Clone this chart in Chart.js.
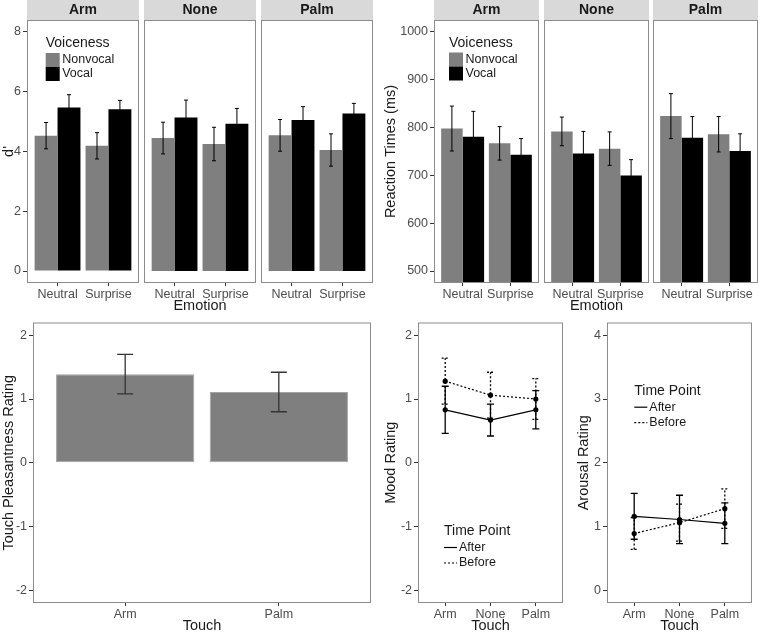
<!DOCTYPE html>
<html>
<head>
<meta charset="utf-8">
<script src="https://cdn.jsdelivr.net/npm/chart.js@4.4.1/dist/chart.umd.min.js"></script>
<style>
  html, body { margin: 0; padding: 0; background: #fff; overflow: hidden; }
  #page { position: relative; width: 761px; height: 633px; }
  canvas { position: absolute; }
</style>
</head>
<body>
<div id="page"></div>
<script>
// ---- data ----
const touchFacets = ['Arm', 'None', 'Palm'];
const emotions = ['Neutral', 'Surprise'];
const voiceness = ['Nonvocal', 'Vocal'];

// d' by facet (Arm, None, Palm), each [Neutral, Surprise]
const dprimeNonvocal = [[4.53, 4.19], [4.45, 4.25], [4.54, 4.05]];
const dprimeNonvocalErr = [[0.44, 0.44], [0.53, 0.56], [0.53, 0.54]];
const dprimeVocal = [[5.47, 5.41], [5.14, 4.93], [5.05, 5.27]];
const dprimeVocalErr = [[0.43, 0.30], [0.58, 0.51], [0.45, 0.34]];
const dprimeTicks = [0, 2, 4, 6, 8];

// reaction times (ms) by facet, each [Neutral, Surprise]
const rtNonvocal = [[798, 767], [792, 756], [824, 786]];
const rtNonvocalErr = [[47, 35], [30, 35], [47, 37]];
const rtVocal = [[781, 743], [746, 700], [779, 751]];
const rtVocalErr = [[53, 34], [46, 33], [44, 36]];
const rtTicks = [500, 600, 700, 800, 900, 1000];

// touch pleasantness
const pleasantTouch = ['Arm', 'Palm'];
const pleasantness = [1.39, 1.11];
const pleasantnessErr = [0.31, 0.31];
const ratingTicks = [-2, -1, 0, 1, 2];

// mood and arousal, Touch = Arm, None, Palm
const timePoints = ['After', 'Before'];
const moodAfter = [0.83, 0.67, 0.83];
const moodAfterErr = [0.37, 0.25, 0.30];
const moodBefore = [1.28, 1.06, 1.00];
const moodBeforeErr = [0.36, 0.36, 0.32];
const arousalAfter = [1.16, 1.11, 1.05];
const arousalAfterErr = [0.36, 0.38, 0.32];
const arousalBefore = [0.89, 1.06, 1.28];
const arousalBeforeErr = [0.25, 0.29, 0.31];
const arousalTicks = [0, 1, 2, 3, 4];

Chart.defaults.font.family = '"Liberation Sans", Arial, Helvetica, sans-serif';
Chart.defaults.color = '#4d4d4d';

const FONT = '"Liberation Sans", Arial, Helvetica, sans-serif';

// strip, panel border, error bars and in-panel legend
const panelPlugin = {
  id: 'panel',
  beforeDraw(chart, args, opts) {
    if (!opts.strip) return;
    const a = chart.chartArea, ctx = chart.ctx;
    ctx.save();
    ctx.fillStyle = '#d9d9d9';
    ctx.fillRect(a.left, a.top - 20, a.right - a.left, 20);
    ctx.fillStyle = '#1a1a1a';
    ctx.font = 'bold 14px ' + FONT;
    ctx.textAlign = 'center';
    ctx.textBaseline = 'middle';
    ctx.fillText(opts.strip, (a.left + a.right) / 2, a.top - 9.5);
    ctx.restore();
  },
  afterDatasetsDraw(chart) {
    const ctx = chart.ctx, ys = chart.scales.y;
    chart.data.datasets.forEach((ds, i) => {
      if (!ds.errors) return;
      const meta = chart.getDatasetMeta(i);
      ctx.save();
      ctx.strokeStyle = ds.errColor || '#000';
      ctx.lineWidth = ds.errWidth || 1;
      ctx.setLineDash(ds.errDash || []);
      meta.data.forEach((el, j) => {
        const v = ds.data[j].y, e = ds.errors[j];
        const x = el.x, y1 = ys.getPixelForValue(v - e), y2 = ys.getPixelForValue(v + e);
        const cw = ds.capHalf || 2;
        ctx.beginPath();
        ctx.moveTo(x, y1); ctx.lineTo(x, y2);
        ctx.moveTo(x - cw, y1); ctx.lineTo(x + cw, y1);
        ctx.moveTo(x - cw, y2); ctx.lineTo(x + cw, y2);
        ctx.stroke();
      });
      ctx.restore();
    });
  },
  afterDraw(chart, args, opts) {
    const a = chart.chartArea, ctx = chart.ctx;
    ctx.save();
    ctx.strokeStyle = '#8c8c8c';
    ctx.lineWidth = 1;
    ctx.strokeRect(a.left + 0.5, a.top + 0.5, a.right - a.left - 1, a.bottom - a.top - 1);
    const lg = opts.legend;
    if (lg) {
      const x = a.left + lg.x;
      ctx.textBaseline = 'middle';
      ctx.textAlign = 'left';
      ctx.fillStyle = '#1a1a1a';
      ctx.font = '14px ' + FONT;
      ctx.fillText(lg.title, x, a.top + lg.titleY);
      ctx.font = '12.5px ' + FONT;
      lg.labels.forEach((lab, k) => {
        const cy = a.top + lg.keyY + k * lg.step;
        if (lg.kind === 'fill') {
          ctx.fillStyle = lg.colors[k];
          ctx.fillRect(x, cy - lg.step / 2, lg.step, lg.step);
          ctx.fillStyle = '#1a1a1a';
          ctx.fillText(lab, x + lg.step + 2.5, cy);
        } else {
          ctx.strokeStyle = '#000';
          ctx.lineWidth = 1.2;
          ctx.setLineDash(lg.dashes[k]);
          ctx.beginPath();
          ctx.moveTo(x, cy); ctx.lineTo(x + 13, cy);
          ctx.stroke();
          ctx.setLineDash([]);
          ctx.fillStyle = '#1a1a1a';
          ctx.fillText(lab, x + 15, cy);
        }
      });
    }
    ctx.restore();
  }
};

function addCanvas(left, top, width, height) {
  const c = document.createElement('canvas');
  c.width = width; c.height = height;
  c.style.left = left + 'px'; c.style.top = top + 'px';
  c.style.width = width + 'px'; c.style.height = height + 'px';
  document.getElementById('page').appendChild(c);
  return c.getContext('2d');
}

function categoryAxis(cats, title) {
  return {
    type: 'linear', min: 0.4, max: cats.length + 0.6, offset: false,
    afterBuildTicks: s => { s.ticks = cats.map((c, i) => ({ value: i + 1 })); },
    afterFit: s => { s.height = 32; },
    grid: { drawOnChartArea: false, offset: false, tickLength: 3, color: '#333333' },
    border: { display: false },
    ticks: { padding: 1, font: { size: 12.5 }, color: '#4d4d4d', maxRotation: 0, autoSkip: false,
             callback: v => cats[Math.round(v) - 1] },
    title: { display: !!title, text: title, font: { size: 14.5 }, color: '#1a1a1a', padding: 0 }
  };
}

function valueAxis(min, max, ticks, width, title) {
  return {
    min, max,
    display: width > 0,
    afterBuildTicks: s => { s.ticks = ticks.map(v => ({ value: v })); },
    afterFit: s => { s.width = width; },
    grid: { drawOnChartArea: false, tickLength: 4, color: '#333333' },
    border: { display: false },
    ticks: { padding: 2, font: { size: 12.5 }, color: '#4d4d4d', callback: v => String(v) },
    title: { display: !!title, text: title, font: { size: 14.5 }, color: '#1a1a1a', padding: 0 }
  };
}

function baseOptions(padTop, yWidth, xScale, yScale, panel) {
  return {
    animation: false, responsive: false, devicePixelRatio: 1,
    layout: { padding: { top: padTop, left: yWidth ? 0 : 1, right: 1, bottom: 0 } },
    scales: { x: xScale, y: yScale },
    plugins: { legend: { display: false }, tooltip: { enabled: false }, panel }
  };
}

function facetBars(ctx, f, nv, nvErr, v, vErr, yMin, yMax, ticks, yWidth, yTitle, legendPos) {
  const opts = baseOptions(20, yWidth,
    categoryAxis(emotions, f === 1 ? 'Emotion' : ''),
    valueAxis(yMin, yMax, ticks, yWidth, yTitle),
    {
      strip: touchFacets[f],
      legend: legendPos ? Object.assign({ kind: 'fill', title: 'Voiceness', labels: voiceness,
                                          colors: ['#7f7f7f', '#000000'], step: 14 }, legendPos) : null
    });
  opts.datasets = { bar: { categoryPercentage: 0.9, barPercentage: 1, clip: 0 } };
  return new Chart(ctx, {
    type: 'bar',
    data: {
      datasets: [
        { label: voiceness[0], data: emotions.map((e, i) => ({ x: i + 1, y: nv[f][i] })),
          errors: nvErr[f], backgroundColor: '#7f7f7f', capHalf: 2 },
        { label: voiceness[1], data: emotions.map((e, i) => ({ x: i + 1, y: v[f][i] })),
          errors: vErr[f], backgroundColor: '#000000', capHalf: 2 }
      ]
    },
    options: opts,
    plugins: [panelPlugin]
  });
}

// top left: d'
const tlLefts = [0, 143, 260];
touchFacets.forEach((t, f) => {
  const yw = f === 0 ? 27 : 0;
  facetBars(addCanvas(tlLefts[f], 0, yw + 112 + (f === 0 ? 1 : 2), 315), f,
    dprimeNonvocal, dprimeNonvocalErr, dprimeVocal, dprimeVocalErr,
    -0.4, 8.4, dprimeTicks, yw, "d'", f === 0 ? { x: 18.7, titleY: 23.3, keyY: 40 } : null);
});

// top right: reaction times
const trLefts = [382, 543, 652];
touchFacets.forEach((t, f) => {
  const yw = f === 0 ? 52 : 0;
  facetBars(addCanvas(trLefts[f], 0, yw + 105 + (f === 0 ? 1 : 2), 315), f,
    rtNonvocal, rtNonvocalErr, rtVocal, rtVocalErr,
    475, 1025, rtTicks, yw, 'Reaction Times (ms)', f === 0 ? { x: 15, titleY: 23.3, keyY: 39.5 } : null);
});

// bottom left: touch pleasantness
(function () {
  const opts = baseOptions(8, 33, categoryAxis(pleasantTouch, 'Touch'),
    valueAxis(-2.2, 2.2, ratingTicks, 33, 'Touch Pleasantness Rating'), {});
  opts.datasets = { bar: { categoryPercentage: 0.9, barPercentage: 1, clip: 0 } };
  new Chart(addCanvas(0, 313, 33 + 338 + 1, 322), {
    type: 'bar',
    data: {
      datasets: [{
        label: 'Pleasantness', data: pleasantTouch.map((c, i) => ({ x: i + 1, y: pleasantness[i] })),
        errors: pleasantnessErr, backgroundColor: '#7f7f7f', borderColor: '#a3a3a3',
        borderWidth: 1, borderSkipped: false, capHalf: 8, errColor: '#333333', errWidth: 1.3
      }]
    },
    options: opts,
    plugins: [panelPlugin]
  });
})();

function timeLines(ctx, after, afterErr, before, beforeErr, yMin, yMax, ticks, yWidth, yTitle, legendPos) {
  const pointStyle = { borderColor: '#000', backgroundColor: '#000', pointRadius: 2.6,
                       pointBackgroundColor: '#000', pointBorderWidth: 0, borderWidth: 1.2,
                       tension: 0, capHalf: 3.5, errWidth: 1.3 };
  const opts = baseOptions(8, yWidth, categoryAxis(touchFacets, 'Touch'),
    valueAxis(yMin, yMax, ticks, yWidth, yTitle),
    { legend: Object.assign({ kind: 'line', title: 'Time Point', labels: timePoints,
                              dashes: [[], [2, 2]], step: 15.5 }, legendPos) });
  return new Chart(ctx, {
    type: 'line',
    data: {
      datasets: [
        Object.assign({ label: timePoints[0], data: touchFacets.map((c, i) => ({ x: i + 1, y: after[i] })),
                        errors: afterErr }, pointStyle),
        Object.assign({ label: timePoints[1], data: touchFacets.map((c, i) => ({ x: i + 1, y: before[i] })),
                        errors: beforeErr, borderDash: [2, 2], errDash: [2, 2] }, pointStyle)
      ]
    },
    options: opts,
    plugins: [panelPlugin]
  });
}

// bottom middle: mood
timeLines(addCanvas(382, 313, 36 + 148 + 1, 322), moodAfter, moodAfterErr, moodBefore, moodBeforeErr,
  -2.2, 2.2, ratingTicks, 36, 'Mood Rating', { x: 26, titleY: 209, keyY: 225 });

// bottom right: arousal
timeLines(addCanvas(575, 313, 32 + 148 + 1, 322), arousalAfter, arousalAfterErr, arousalBefore, arousalBeforeErr,
  -0.2, 4.2, arousalTicks, 32, 'Arousal Rating', { x: 27.3, titleY: 68.3, keyY: 84.7 });
</script>
</body>
</html>
